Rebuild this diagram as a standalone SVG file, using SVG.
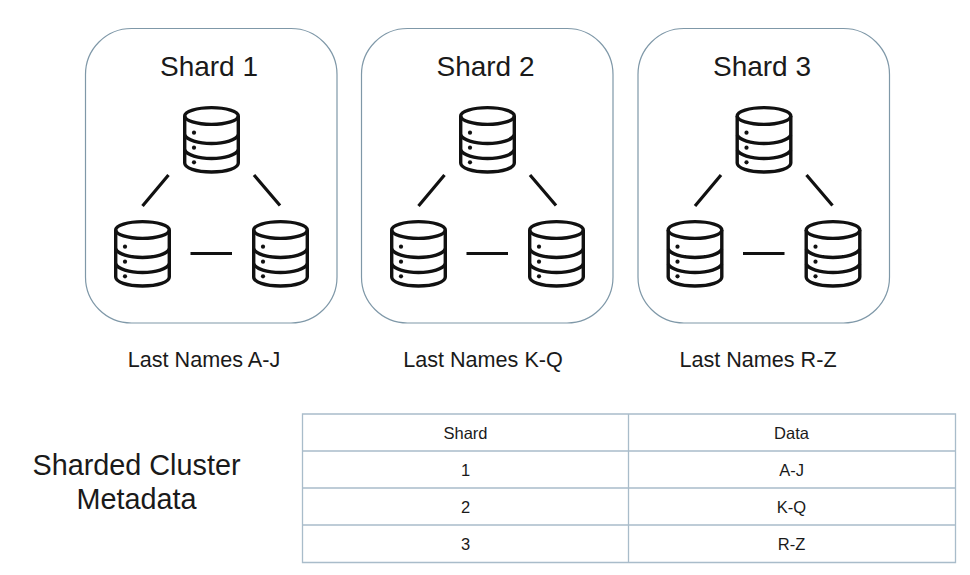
<svg xmlns="http://www.w3.org/2000/svg" xmlns:xlink="http://www.w3.org/1999/xlink" width="970" height="575" viewBox="0 0 970 575">
<style>
text{font-family:"Liberation Sans",Arial,sans-serif;fill:#1a1a1a;text-anchor:middle}
.box{fill:#fff;stroke:#7f98a8;stroke-width:1.2}
.t{font-size:28px}
.l{font-size:21.600px}
.m{font-size:28.800px}
.c{font-size:16.500px}
.db{fill:none;stroke:#111;stroke-width:3.4}
.link{stroke:#111;stroke-width:3.2;fill:none}
.grid{stroke:#a9bcca;stroke-width:1.3;fill:none}
</style>
<defs>
<g id="dbi">
<path class="db" d="M1.700 10V57C1.700 62 13 66 28.500 66S55.300 62 55.300 57V10"/>
<ellipse class="db" cx="28.500" cy="10" rx="26.800" ry="8.400"/>
<path class="db" d="M1.700 29C4 34 15 37.500 28.500 37.500S53 34 55.300 29"/>
<path class="db" d="M1.700 44C4 49 15 52.500 28.500 52.500S53 49 55.300 44"/>
<circle cx="11" cy="26.700" r="2.100" fill="#111"/>
<circle cx="11" cy="41.700" r="2.100" fill="#111"/>
<circle cx="11" cy="56.300" r="2.100" fill="#111"/>
</g>
<g id="links">
<path class="link" d="M168.500 175L142.500 206M254 175L280 205.500M190.500 253.500H232"/>
</g>
</defs>
<g id="shard1">
<rect class="box" x="85.500" y="28.500" width="251.500" height="294.500" rx="46"/>
<text class="t" x="209" y="76">Shard 1</text>
<text class="l" x="204" y="367">Last Names A-J</text>
</g>
<g id="shard2">
<rect class="box" x="361.500" y="28.500" width="251.500" height="294.500" rx="46"/>
<text class="t" x="485.500" y="76">Shard 2</text>
<text class="l" x="483" y="367">Last Names K-Q</text>
</g>
<g id="shard3">
<rect class="box" x="638" y="28.500" width="251.500" height="294.500" rx="46"/>
<text class="t" x="762" y="76">Shard 3</text>
<text class="l" x="758" y="367">Last Names R-Z</text>
</g>
<g id="connectors">
<use xlink:href="#links" href="#links"/>
<use xlink:href="#links" href="#links" x="276"/>
<use xlink:href="#links" href="#links" x="552.500"/>
</g>
<g id="db1a"><use href="#dbi" x="183" y="106"/></g>
<g id="db1b"><use href="#dbi" x="114" y="220"/></g>
<g id="db1c"><use href="#dbi" x="252" y="220"/></g>
<g id="db2a"><use href="#dbi" x="459" y="106"/></g>
<g id="db2b"><use href="#dbi" x="390" y="220"/></g>
<g id="db2c"><use href="#dbi" x="528" y="220"/></g>
<g id="db3a"><use href="#dbi" x="735.500" y="106"/></g>
<g id="db3b"><use href="#dbi" x="666.500" y="220"/></g>
<g id="db3c"><use href="#dbi" x="804.500" y="220"/></g>
<g id="meta-label">
<text class="m" x="136.500" y="475">Sharded Cluster</text>
<text class="m" x="136.500" y="509">Metadata</text>
</g>
<g id="metadata-table">
<path class="grid" d="M302.500 414H955.500V562.500H302.500ZM302.500 451H955.500M302.500 488H955.500M302.500 525H955.500M628.500 414V562.500"/>
<text class="c" x="465.500" y="438.500">Shard</text>
<text class="c" x="791.500" y="438.500">Data</text>
<text class="c" x="465.500" y="475.500">1</text>
<text class="c" x="791.500" y="475.500">A-J</text>
<text class="c" x="465.500" y="512.500">2</text>
<text class="c" x="791.500" y="512.500">K-Q</text>
<text class="c" x="465.500" y="549.500">3</text>
<text class="c" x="791.500" y="549.500">R-Z</text>
</g>
</svg>
